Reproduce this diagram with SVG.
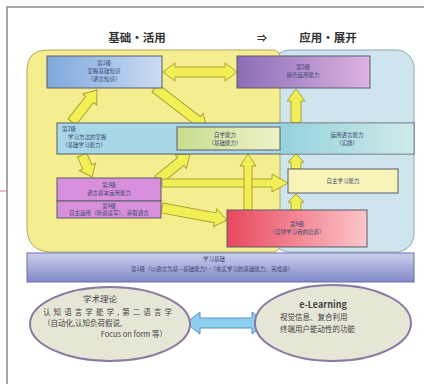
<svg xmlns="http://www.w3.org/2000/svg" width="424" height="384" viewBox="0 0 424 384">
<style>
.t{font-family:"Noto Sans CJK SC","Liberation Sans",sans-serif;fill:#3a4470;font-size:5.5px;text-anchor:middle}
.h{font-family:"Noto Sans CJK SC","Liberation Sans",sans-serif;fill:#333;font-size:11.5px;font-weight:bold;text-anchor:middle}
.e{font-family:"Noto Sans CJK SC","Liberation Sans",sans-serif;fill:#444;font-size:7.5px}
.ar{fill:#f2ef55;stroke:#a8a23a;stroke-width:1}
.bx{stroke:#5a5a6a;stroke-width:1}
</style>
<defs>
<linearGradient id="g1" x1="0" x2="1"><stop offset="0" stop-color="#7fa8dc"/><stop offset="1" stop-color="#cadcf4"/></linearGradient>
<linearGradient id="g5" x1="0" x2="1"><stop offset="0" stop-color="#8a6eb6"/><stop offset="1" stop-color="#deb2e2"/></linearGradient>
<linearGradient id="gr" x1="0" x2="1"><stop offset="0" stop-color="#e8485e"/><stop offset="1" stop-color="#fcc6ca"/></linearGradient>
<linearGradient id="gt" x1="0" x2="1"><stop offset="0" stop-color="#94d2dc"/><stop offset="1" stop-color="#cfe9e8"/></linearGradient>
<linearGradient id="gg" x1="0" x2="1"><stop offset="0" stop-color="#c6de8e"/><stop offset="1" stop-color="#eef2c8"/></linearGradient>
<linearGradient id="gb" x1="0" x2="0" y1="0" y2="1"><stop offset="0" stop-color="#ccd0ec"/><stop offset="1" stop-color="#8088c8"/></linearGradient>
</defs>
<rect width="424" height="384" fill="#fff"/>
<path d="M7,384 V7 H424" fill="none" stroke="#8a8a8a" stroke-width="1.5"/>
<line x1="0" y1="191" x2="7" y2="191" stroke="#d08080" stroke-width="1"/>

<g id="titles">
<text class="h" x="137" y="42">基础·活用</text>
<text class="h" x="262" y="42" style="font-size:10px">⇒</text>
<text class="h" x="328" y="42">应用·展开</text>
</g>

<g id="regions">
<rect x="272" y="50" width="142" height="202" rx="18" fill="#cfe5ee" stroke="#8aa6b0" stroke-width="1"/>
<path d="M47,50 H272 Q280,50 280,58 V244 Q280,252 272,252 H52 Q27,252 27,227 V70 Q27,50 47,50 Z" fill="#f4ee90" stroke="#b0a860" stroke-width="1"/>
</g>

<g id="base">
<rect x="27" y="253" width="387" height="29" fill="url(#gb)" stroke="#6a70a8" stroke-width="1"/>
<text class="t" x="214" y="261">学习基础</text>
<text class="t" x="212" y="271">第1级（以语言为基—基础能力）·（充实学习的基础能力、完成感）</text>
</g>

<g id="connectors">
<polygon class="ar" points="163,72 175,63 175,67 225,67 225,63 237,72 225,81 225,77 175,77 175,81"/>
<polygon class="ar" transform="translate(155 88) rotate(37.6)" points="0,-5 53.6,-5 53.6,-9 65.6,0 53.6,9 53.6,5 0,5"/>
<polygon class="ar" transform="translate(72 122) rotate(-52)" points="0,-5 28.6,-5 28.6,-9 40.6,0 28.6,9 28.6,5 0,5"/>
<polygon class="ar" transform="translate(296 123) rotate(-90)" points="0,-5 22,-5 22,-9 34,0 22,9 22,5 0,5"/>
<polygon class="ar" transform="translate(82 155) rotate(65.6)" points="0,-5 13,-5 13,-9 24.2,0 13,9 13,5 0,5"/>
<polygon class="ar" transform="translate(158 180) rotate(-39)" points="0,-5 29.2,-5 29.2,-9 41.2,0 29.2,9 29.2,5 0,5"/>
<polygon class="ar" transform="translate(162 183)" points="0,-4 110,-4 110,-9 126,0 110,9 110,4 0,4"/>
<polygon class="ar" transform="translate(162 208) rotate(10.5)" points="0,-5 54,-5 54,-9 66,0 54,9 54,5 0,5"/>
<polygon class="ar" transform="translate(248 210) rotate(-90)" points="0,-4 44,-4 44,-8 56,0 44,8 44,4 0,4"/>
<polygon class="ar" transform="translate(296 210) rotate(-90)" points="0,-5 8,-5 8,-8 16,0 8,8 8,5 0,5"/>
<polygon class="ar" transform="translate(296 169) rotate(-90)" points="0,-5 7,-5 7,-8 15,0 7,8 7,5 0,5"/>
<polygon class="ar" transform="translate(274 138)" points="0,-3 11,-3 11,-6 18,0 11,6 11,3 0,3"/>
<polygon points="186,323 200,312 200,318 252,318 252,312 266,323 252,334 252,328 200,328 200,334" fill="#8ccfee" stroke="#5a90c0" stroke-width="1"/>
</g>

<g id="n1">
<rect class="bx" x="47" y="56" width="115" height="32" fill="url(#g1)"/>
<text class="t" x="104" y="65">第1级</text>
<text class="t" x="104" y="73">掌握基础知识</text>
<text class="t" x="104" y="81">（语言知识）</text>
</g>

<g id="n5">
<rect class="bx" x="237" y="56" width="133" height="32" fill="url(#g5)"/>
<text class="t" x="303" y="69">第5级</text>
<text class="t" x="303" y="77">综合运用能力</text>
</g>

<g id="n2">
<rect class="bx" x="57" y="123" width="357" height="31" fill="#a8d8e8"/>
<rect x="280" y="123.5" width="133.5" height="30" fill="url(#gt)"/>
<text class="t" x="62" y="131" style="text-anchor:start">第2级</text>
<text class="t" x="68" y="139" style="text-anchor:start">学习方法的掌握</text>
<text class="t" x="62" y="147" style="text-anchor:start">（基础学习能力）</text>
<text class="t" x="347" y="137">运用语言能力</text>
<text class="t" x="347" y="145">（实践）</text>
</g>

<g id="ng">
<rect class="bx" x="177" y="127" width="103" height="23" fill="url(#gg)"/>
<text class="t" x="225" y="137">自学能力</text>
<text class="t" x="225" y="145">（基础能力）</text>
</g>

<g id="n3">
<rect class="bx" x="57" y="178" width="104" height="23" fill="#d890dc"/>
<text class="t" x="109" y="187">第3级</text>
<text class="t" x="109" y="195">语言基本运用能力</text>
</g>

<g id="n4">
<rect class="bx" x="57" y="201" width="104" height="17" fill="#d890dc"/>
<text class="t" x="109" y="208">第4级</text>
<text class="t" x="109" y="215">自主运用（听说读写）、获取语言</text>
</g>

<g id="ns">
<rect class="bx" x="288" y="169" width="110" height="24" fill="#f8f4b8"/>
<text class="t" x="343" y="183">自主学习能力</text>
</g>

<g id="n6">
<rect class="bx" x="227" y="210" width="140" height="37" fill="url(#gr)"/>
<text class="t" x="297" y="226">第6级</text>
<text class="t" x="297" y="234">（自律学习者的培养）</text>
</g>

<g id="theory">
<ellipse cx="110" cy="324" rx="80" ry="37" fill="#e6e6d6" stroke="#8a7aa0" stroke-width="2"/>
<text class="e" x="100" y="302" style="font-size:8.5px;text-anchor:middle">学术理论</text>
<text class="e" x="43" y="315" textLength="129" lengthAdjust="spacing">认知语言学能学,第二语言学</text>
<text class="e" x="43" y="326">（自动化,认知负荷假说,</text>
<text class="e" x="167" y="337" style="text-anchor:end">Focus on form 等）</text>
</g>

<g id="elearning">
<ellipse cx="333" cy="323" rx="78" ry="38" fill="#e6e6d6" stroke="#8a7aa0" stroke-width="2"/>
<text class="e" x="323" y="308" style="font-size:9px;font-weight:bold;text-anchor:middle">e-Learning</text>
<text class="e" x="280" y="320">视觉信息、复合利用</text>
<text class="e" x="280" y="332">终端用户能动性的功能</text>
</g>
</svg>
